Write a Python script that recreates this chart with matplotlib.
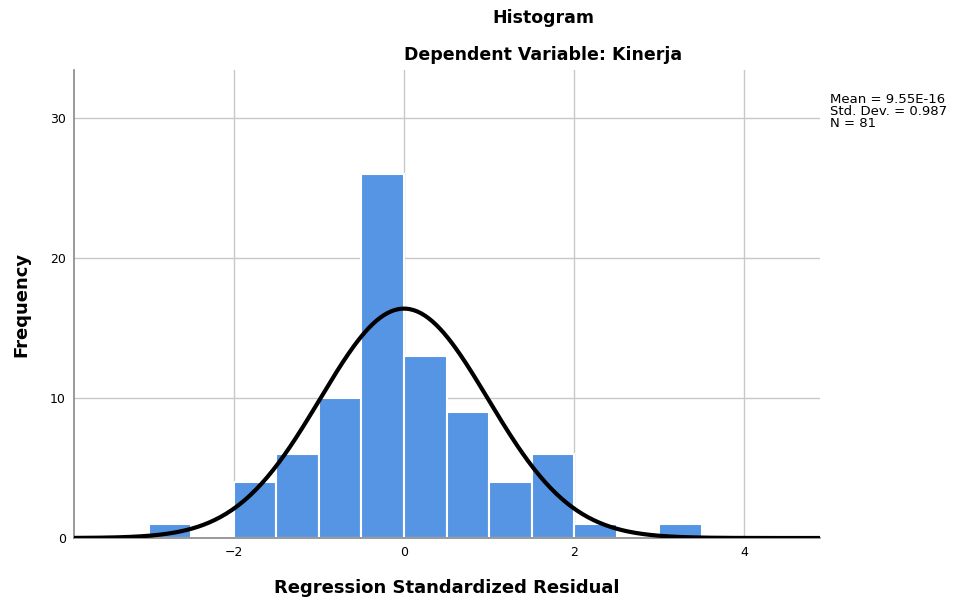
import numpy as np
import matplotlib.pyplot as plt

# histogram bins (left edges, width 0.5) and counts
bin_left = [-3.0, -2.5, -2.0, -1.5, -1.0, -0.5, 0.0, 0.5, 1.0, 1.5, 2.0, 2.5, 3.0]
counts = [1, 0, 4, 6, 10, 26, 13, 9, 4, 6, 1, 0, 1]
bin_width = 0.5

mean = 9.55e-16
std = 0.987
n = 81

x_ticks = [-2, 0, 2, 4]
y_ticks = [0, 10, 20, 30]

fig = plt.figure(figsize=(9.56, 6.02), dpi=100)
ax = fig.add_axes([0.0774, 0.1063, 0.7803, 0.7774])

ax.bar(bin_left, counts, width=bin_width, align="edge", color="#5595e3",
       edgecolor="white", linewidth=1.5, zorder=2)

xs = np.linspace(-3.9, 4.9, 400)
curve = n * bin_width * np.exp(-0.5 * ((xs - mean) / std) ** 2) / (std * np.sqrt(2 * np.pi))
ax.plot(xs, curve, color="black", linewidth=3, zorder=3)

ax.set_xlim(-3.88, 4.89)
ax.set_ylim(0, 33.4)
ax.set_xticks(x_ticks)
ax.set_yticks(y_ticks)
ax.grid(True, color="#c8c8c8", linewidth=1, zorder=0)
ax.set_axisbelow(True)
ax.tick_params(length=0, labelsize=9, pad=6)
for s in ["top", "right"]:
    ax.spines[s].set_visible(False)
for s in ["left", "bottom"]:
    ax.spines[s].set_color("#888888")
    ax.spines[s].set_linewidth(1.2)

ax.set_xlabel("Regression Standardized Residual", fontsize=13, fontweight="bold", labelpad=14)
ax.set_ylabel("Frequency", fontsize=13, fontweight="bold", labelpad=14)

fig.text(0.568, 0.97, "Histogram", ha="center", va="center", fontsize=12.5, fontweight="bold")
fig.text(0.568, 0.909, "Dependent Variable: Kinerja", ha="center", va="center",
         fontsize=12.5, fontweight="bold")
fig.text(0.868, 0.845, f"Mean = 9.55E-16\nStd. Dev. = {std}\nN = {n}", ha="left", va="top",
         fontsize=9.5, linespacing=0.9)

fig.savefig("out.png", dpi=100)
